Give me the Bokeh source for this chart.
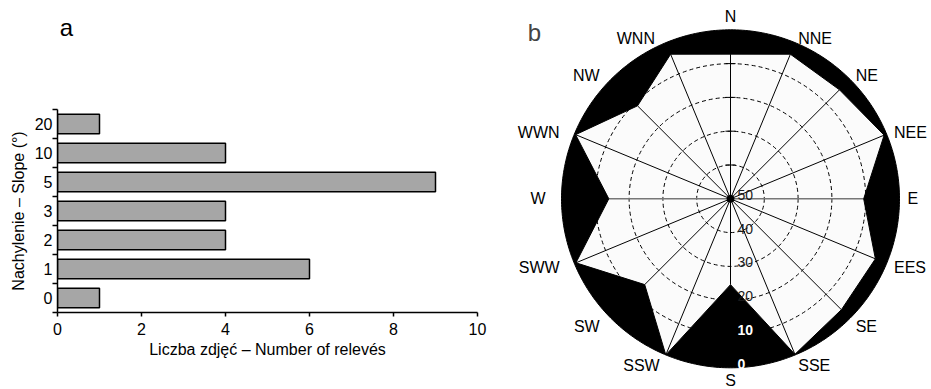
import numpy as np
from bokeh.plotting import figure
from bokeh.layouts import row, column
from bokeh.models import FixedTicker, Label, Range1d
from bokeh.core.properties import value
from bokeh.embed import file_html
from bokeh.resources import INLINE

# ---------------- data: panel a ----------------
slope_labels = ["0", "1", "2", "3", "5", "10", "20"]
releve_counts = [1, 6, 4, 4, 9, 4, 1]
count_ticks = [0, 2, 4, 6, 8, 10]

# ---------------- data: panel b ----------------
directions = ["N", "NNE", "NE", "NEE", "E", "EES", "SE", "SSE",
              "S", "SSW", "SW", "SWW", "W", "WWN", "NW", "WNN"]
direction_values = [7.2, 3.7, 4.4, 0.8, 10.6, 3.6, 3.6, 0.2,
                    24.6, 0.0, 14.1, 0.5, 14.0, 0.4, 11.1, 3.7]
radial_ticks = [50, 40, 30, 20, 10, 0]
RADIAL_MAX = 50

FONT = "Liberation Sans"

# ================= panel a =================
W_A, H = 498, 389
HEAD = 40
# small strip on top carrying the panel letter "a"
pa_head = figure(width=W_A, height=HEAD, x_range=Range1d(0, 10), y_range=Range1d(0, HEAD),
                 output_backend="svg", toolbar_location=None,
                 x_axis_location=None, y_axis_location=None,
                 min_border_left=57, min_border_right=21, min_border_top=0, min_border_bottom=0)
pa_head.outline_line_color = None
pa_head.grid.visible = False
pa_head.add_layout(Label(x=0.21, y=HEAD - 27.3, text="a", text_font=FONT, text_font_size="24px",
                         text_align="center", text_baseline="alphabetic", text_color="black"))

pa = figure(width=W_A, height=H - HEAD, x_range=Range1d(0, 10), y_range=Range1d(-0.5, 6.5),
            output_backend="svg", toolbar_location=None,
            min_border_left=57, min_border_right=21, min_border_top=109 - HEAD, min_border_bottom=77)
pa.outline_line_color = None
pa.xgrid.visible = False
pa.ygrid.visible = False

ypos = list(range(len(slope_labels)))
pa.hbar(y=ypos, left=0, right=releve_counts, height=0.67,
        fill_color="#a6a6a6", line_color="black", line_width=1.5)

xa = pa.xaxis[0]
xa.ticker = FixedTicker(ticks=count_ticks, minor_ticks=[])
xa.major_tick_out = 4
xa.major_tick_in = 0
xa.major_tick_line_width = 1.5
xa.axis_line_width = 1.5
xa.major_label_text_font = FONT
xa.major_label_text_font_size = "16px"
xa.major_label_text_color = "black"
xa.major_label_standoff = 6
xa.axis_label = "Liczba zdjęć – Number of relevés"
xa.axis_label_text_font = FONT
xa.axis_label_text_font_size = "16px"
xa.axis_label_text_font_style = "normal"
xa.axis_label_text_color = "black"
xa.axis_label_standoff = 3

ya = pa.yaxis[0]
ya.ticker = FixedTicker(ticks=ypos, minor_ticks=[i - 0.5 for i in range(len(slope_labels) + 1)])
ya.major_label_overrides = {i: lab for i, lab in enumerate(slope_labels)}
ya.major_tick_out = 0
ya.major_tick_in = 0
ya.minor_tick_out = 5
ya.minor_tick_in = 0
ya.minor_tick_line_width = 1.5
ya.minor_tick_line_color = "black"
ya.axis_line_width = 1.5
ya.major_label_text_font = FONT
ya.major_label_text_font_size = "16px"
ya.major_label_text_color = "black"
ya.major_label_standoff = 0
ya.axis_label = "Nachylenie – Slope (°)"
ya.axis_label_text_font = FONT
ya.axis_label_text_font_size = "16px"
ya.axis_label_text_font_style = "normal"
ya.axis_label_text_color = "black"
ya.axis_label_standoff = 5

# ================= panel b =================
PX = 3.38          # pixels per radial unit
CX, CY = 232, 198.3  # centre in canvas pixels
W_B = 931 - W_A
pb = figure(width=W_B, height=H,
            x_range=Range1d(-CX / PX, (W_B - CX) / PX),
            y_range=Range1d(-(H - CY) / PX, CY / PX),
            output_backend="svg", toolbar_location=None,
            x_axis_location=None, y_axis_location=None, min_border=0)
pb.outline_line_color = None
pb.grid.visible = False

theta = np.deg2rad(np.arange(len(directions)) * 360.0 / len(directions))
rho = RADIAL_MAX - np.array(direction_values, dtype=float)
vx = rho * np.sin(theta)
vy = rho * np.cos(theta)

# inner (data) polygon
pb.patch(list(vx), list(vy), fill_color="#fbfbfb", line_color=None)

# dashed rings
for t in radial_ticks:
    r = RADIAL_MAX - t
    if 0 < r < RADIAL_MAX:
        pb.circle(x=0, y=0, radius=r, fill_color=None, line_color="black",
                  line_width=1, line_dash="4 3")

# spokes
spoke_colors = ["#777777" if abs(abs(np.sin(a)) - 1) < 1e-6 else "black" for a in theta]
spoke_widths = [1.6 if c == "#777777" else 1 for c in spoke_colors]
pb.segment(x0=[0] * len(vx), y0=[0] * len(vy), x1=list(vx), y1=list(vy),
           line_color=spoke_colors, line_width=spoke_widths)

# small ticks along the N axis
tick_r = [RADIAL_MAX - t for t in radial_ticks if 0 < RADIAL_MAX - t < RADIAL_MAX]
pb.segment(x0=[-1.5] * len(tick_r), y0=tick_r, x1=[1.5] * len(tick_r), y1=tick_r,
           line_color="black", line_width=1)

# black region between polygon and outer circle
circ = np.linspace(0, 2 * np.pi, 361)
ox = list(RADIAL_MAX * np.sin(circ))
oy = list(RADIAL_MAX * np.cos(circ))
pb.multi_polygons(xs=[[[ox, list(vx)]]], ys=[[[oy, list(vy)]]],
                  fill_color="black", line_color="black", line_width=1)

# centre dot
pb.scatter(x=[0], y=[0], size=7, color="black")

# radial tick labels (below centre)
lab_y = [-(RADIAL_MAX - t) for t in radial_ticks]
lab_col = ["white" if (RADIAL_MAX - t) > 35 else "#1a1a1a" for t in radial_ticks]
lab_sty = ["bold" if (RADIAL_MAX - t) > 35 else "normal" for t in radial_ticks]
pb.text(x=[7 / PX] * len(radial_ticks), y=lab_y, text=[str(t) for t in radial_ticks],
        text_color=lab_col, text_font_style=lab_sty, text_font=value(FONT),
        text_font_size="14px", text_align="left", text_baseline="alphabetic", y_offset=-4)

# direction labels
lx, ly, la = [], [], []
for a in theta:
    s, c = np.sin(a), np.cos(a)
    if abs(s) < 1e-6:
        x = 0.0
        al = "center"
        y = (182 if c > 0 else -182) / PX
    else:
        if s > 0:
            x = 177 * s / PX
            al = "left"
        else:
            x = (185 + 20 * max(c - 0.8, 0) / 0.2) * s / PX
            al = "right"
        y = (174 * c if c > 0 else 180 * c) / PX
    lx.append(x); ly.append(y); la.append(al)
pb.text(x=lx, y=ly, text=directions, text_align=la, text_baseline="middle",
        text_font=value(FONT), text_font_size="16px", text_color="black")

pb.add_layout(Label(x=(36 - CX) / PX, y=(CY - 32) / PX, text="b", text_font=FONT,
                    text_font_size="24px", text_align="center", text_baseline="alphabetic"))

layout = row(column(pa_head, pa), column(pb))
open("out.html", "w").write(file_html(layout, INLINE))
